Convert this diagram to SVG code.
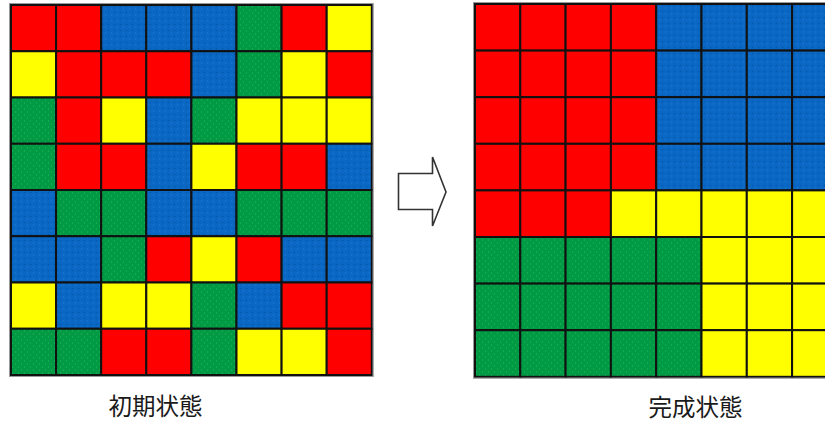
<svg xmlns="http://www.w3.org/2000/svg" width="825" height="423" viewBox="0 0 825 423">
<style>
.c{stroke:#111;stroke-width:2}
.r{fill:#FF0000}
.y{fill:#FFFF00}
.g{fill:url(#pg)}
.b{fill:url(#pb)}
.frame{fill:none;stroke:#999;stroke-width:1}
.lbl{font-family:"Noto Sans CJK JP","Noto Sans CJK SC",sans-serif;font-size:23.5px;fill:#1a1a1a;text-anchor:middle}
</style>
<defs>
<pattern id="pb" width="6" height="6" patternUnits="userSpaceOnUse">
<rect width="6" height="6" fill="#0A68C4"/>
<circle cx="1.5" cy="1.5" r="0.8" fill="#0456A8"/>
<circle cx="4.5" cy="4" r="0.8" fill="#1A78D0"/>
</pattern>
<pattern id="pg" width="6" height="6" patternUnits="userSpaceOnUse">
<rect width="6" height="6" fill="#009944"/>
<circle cx="1.5" cy="2" r="0.7" fill="#1DB356"/>
<circle cx="4.5" cy="5" r="0.7" fill="#1DB356"/>
</pattern>
</defs>
<rect width="825" height="423" fill="#fff"/>
<g id="initial">
<g transform="translate(11,5)">
<rect class="c r" x="0" y="0" width="45.1" height="46.25"/><rect class="c r" x="45.1" y="0" width="45.1" height="46.25"/><rect class="c b" x="90.2" y="0" width="45.1" height="46.25"/><rect class="c b" x="135.3" y="0" width="45.1" height="46.25"/><rect class="c b" x="180.4" y="0" width="45.1" height="46.25"/><rect class="c g" x="225.5" y="0" width="45.1" height="46.25"/><rect class="c r" x="270.6" y="0" width="45.1" height="46.25"/><rect class="c y" x="315.7" y="0" width="45.1" height="46.25"/>
<rect class="c y" x="0" y="46.25" width="45.1" height="46.25"/><rect class="c r" x="45.1" y="46.25" width="45.1" height="46.25"/><rect class="c r" x="90.2" y="46.25" width="45.1" height="46.25"/><rect class="c r" x="135.3" y="46.25" width="45.1" height="46.25"/><rect class="c b" x="180.4" y="46.25" width="45.1" height="46.25"/><rect class="c g" x="225.5" y="46.25" width="45.1" height="46.25"/><rect class="c y" x="270.6" y="46.25" width="45.1" height="46.25"/><rect class="c r" x="315.7" y="46.25" width="45.1" height="46.25"/>
<rect class="c g" x="0" y="92.5" width="45.1" height="46.25"/><rect class="c r" x="45.1" y="92.5" width="45.1" height="46.25"/><rect class="c y" x="90.2" y="92.5" width="45.1" height="46.25"/><rect class="c b" x="135.3" y="92.5" width="45.1" height="46.25"/><rect class="c g" x="180.4" y="92.5" width="45.1" height="46.25"/><rect class="c y" x="225.5" y="92.5" width="45.1" height="46.25"/><rect class="c y" x="270.6" y="92.5" width="45.1" height="46.25"/><rect class="c y" x="315.7" y="92.5" width="45.1" height="46.25"/>
<rect class="c g" x="0" y="138.75" width="45.1" height="46.25"/><rect class="c r" x="45.1" y="138.75" width="45.1" height="46.25"/><rect class="c r" x="90.2" y="138.75" width="45.1" height="46.25"/><rect class="c b" x="135.3" y="138.75" width="45.1" height="46.25"/><rect class="c y" x="180.4" y="138.75" width="45.1" height="46.25"/><rect class="c r" x="225.5" y="138.75" width="45.1" height="46.25"/><rect class="c r" x="270.6" y="138.75" width="45.1" height="46.25"/><rect class="c b" x="315.7" y="138.75" width="45.1" height="46.25"/>
<rect class="c b" x="0" y="185" width="45.1" height="46.25"/><rect class="c g" x="45.1" y="185" width="45.1" height="46.25"/><rect class="c g" x="90.2" y="185" width="45.1" height="46.25"/><rect class="c b" x="135.3" y="185" width="45.1" height="46.25"/><rect class="c b" x="180.4" y="185" width="45.1" height="46.25"/><rect class="c g" x="225.5" y="185" width="45.1" height="46.25"/><rect class="c g" x="270.6" y="185" width="45.1" height="46.25"/><rect class="c g" x="315.7" y="185" width="45.1" height="46.25"/>
<rect class="c b" x="0" y="231.25" width="45.1" height="46.25"/><rect class="c b" x="45.1" y="231.25" width="45.1" height="46.25"/><rect class="c g" x="90.2" y="231.25" width="45.1" height="46.25"/><rect class="c r" x="135.3" y="231.25" width="45.1" height="46.25"/><rect class="c y" x="180.4" y="231.25" width="45.1" height="46.25"/><rect class="c r" x="225.5" y="231.25" width="45.1" height="46.25"/><rect class="c b" x="270.6" y="231.25" width="45.1" height="46.25"/><rect class="c b" x="315.7" y="231.25" width="45.1" height="46.25"/>
<rect class="c y" x="0" y="277.5" width="45.1" height="46.25"/><rect class="c b" x="45.1" y="277.5" width="45.1" height="46.25"/><rect class="c y" x="90.2" y="277.5" width="45.1" height="46.25"/><rect class="c y" x="135.3" y="277.5" width="45.1" height="46.25"/><rect class="c g" x="180.4" y="277.5" width="45.1" height="46.25"/><rect class="c b" x="225.5" y="277.5" width="45.1" height="46.25"/><rect class="c r" x="270.6" y="277.5" width="45.1" height="46.25"/><rect class="c r" x="315.7" y="277.5" width="45.1" height="46.25"/>
<rect class="c g" x="0" y="323.75" width="45.1" height="46.25"/><rect class="c g" x="45.1" y="323.75" width="45.1" height="46.25"/><rect class="c r" x="90.2" y="323.75" width="45.1" height="46.25"/><rect class="c r" x="135.3" y="323.75" width="45.1" height="46.25"/><rect class="c g" x="180.4" y="323.75" width="45.1" height="46.25"/><rect class="c y" x="225.5" y="323.75" width="45.1" height="46.25"/><rect class="c y" x="270.6" y="323.75" width="45.1" height="46.25"/><rect class="c r" x="315.7" y="323.75" width="45.1" height="46.25"/>
<rect class="frame" x="-1.5" y="-1.5" width="363.8" height="373"/>
</g>
<text class="lbl" x="155.5" y="415">初期状態</text>
</g>
<g id="connectors">
<path d="M398.5,173.5 H432.5 V157 L446,192 L432.5,226 V209.5 H398.5 Z" fill="#fff" stroke="#333" stroke-width="1.6" stroke-linejoin="miter"/>
</g>
<g id="complete">
<g transform="translate(475,4)">
<rect class="c r" x="0" y="0" width="45.3" height="46.6"/><rect class="c r" x="45.3" y="0" width="45.3" height="46.6"/><rect class="c r" x="90.6" y="0" width="45.3" height="46.6"/><rect class="c r" x="135.9" y="0" width="45.3" height="46.6"/><rect class="c b" x="181.2" y="0" width="45.3" height="46.6"/><rect class="c b" x="226.5" y="0" width="45.3" height="46.6"/><rect class="c b" x="271.8" y="0" width="45.3" height="46.6"/><rect class="c b" x="317.1" y="0" width="45.3" height="46.6"/>
<rect class="c r" x="0" y="46.6" width="45.3" height="46.6"/><rect class="c r" x="45.3" y="46.6" width="45.3" height="46.6"/><rect class="c r" x="90.6" y="46.6" width="45.3" height="46.6"/><rect class="c r" x="135.9" y="46.6" width="45.3" height="46.6"/><rect class="c b" x="181.2" y="46.6" width="45.3" height="46.6"/><rect class="c b" x="226.5" y="46.6" width="45.3" height="46.6"/><rect class="c b" x="271.8" y="46.6" width="45.3" height="46.6"/><rect class="c b" x="317.1" y="46.6" width="45.3" height="46.6"/>
<rect class="c r" x="0" y="93.2" width="45.3" height="46.6"/><rect class="c r" x="45.3" y="93.2" width="45.3" height="46.6"/><rect class="c r" x="90.6" y="93.2" width="45.3" height="46.6"/><rect class="c r" x="135.9" y="93.2" width="45.3" height="46.6"/><rect class="c b" x="181.2" y="93.2" width="45.3" height="46.6"/><rect class="c b" x="226.5" y="93.2" width="45.3" height="46.6"/><rect class="c b" x="271.8" y="93.2" width="45.3" height="46.6"/><rect class="c b" x="317.1" y="93.2" width="45.3" height="46.6"/>
<rect class="c r" x="0" y="139.8" width="45.3" height="46.6"/><rect class="c r" x="45.3" y="139.8" width="45.3" height="46.6"/><rect class="c r" x="90.6" y="139.8" width="45.3" height="46.6"/><rect class="c r" x="135.9" y="139.8" width="45.3" height="46.6"/><rect class="c b" x="181.2" y="139.8" width="45.3" height="46.6"/><rect class="c b" x="226.5" y="139.8" width="45.3" height="46.6"/><rect class="c b" x="271.8" y="139.8" width="45.3" height="46.6"/><rect class="c b" x="317.1" y="139.8" width="45.3" height="46.6"/>
<rect class="c r" x="0" y="186.4" width="45.3" height="46.6"/><rect class="c r" x="45.3" y="186.4" width="45.3" height="46.6"/><rect class="c r" x="90.6" y="186.4" width="45.3" height="46.6"/><rect class="c y" x="135.9" y="186.4" width="45.3" height="46.6"/><rect class="c y" x="181.2" y="186.4" width="45.3" height="46.6"/><rect class="c y" x="226.5" y="186.4" width="45.3" height="46.6"/><rect class="c y" x="271.8" y="186.4" width="45.3" height="46.6"/><rect class="c y" x="317.1" y="186.4" width="45.3" height="46.6"/>
<rect class="c g" x="0" y="233" width="45.3" height="46.6"/><rect class="c g" x="45.3" y="233" width="45.3" height="46.6"/><rect class="c g" x="90.6" y="233" width="45.3" height="46.6"/><rect class="c g" x="135.9" y="233" width="45.3" height="46.6"/><rect class="c g" x="181.2" y="233" width="45.3" height="46.6"/><rect class="c y" x="226.5" y="233" width="45.3" height="46.6"/><rect class="c y" x="271.8" y="233" width="45.3" height="46.6"/><rect class="c y" x="317.1" y="233" width="45.3" height="46.6"/>
<rect class="c g" x="0" y="279.6" width="45.3" height="46.6"/><rect class="c g" x="45.3" y="279.6" width="45.3" height="46.6"/><rect class="c g" x="90.6" y="279.6" width="45.3" height="46.6"/><rect class="c g" x="135.9" y="279.6" width="45.3" height="46.6"/><rect class="c g" x="181.2" y="279.6" width="45.3" height="46.6"/><rect class="c y" x="226.5" y="279.6" width="45.3" height="46.6"/><rect class="c y" x="271.8" y="279.6" width="45.3" height="46.6"/><rect class="c y" x="317.1" y="279.6" width="45.3" height="46.6"/>
<rect class="c g" x="0" y="326.2" width="45.3" height="46.6"/><rect class="c g" x="45.3" y="326.2" width="45.3" height="46.6"/><rect class="c g" x="90.6" y="326.2" width="45.3" height="46.6"/><rect class="c g" x="135.9" y="326.2" width="45.3" height="46.6"/><rect class="c g" x="181.2" y="326.2" width="45.3" height="46.6"/><rect class="c y" x="226.5" y="326.2" width="45.3" height="46.6"/><rect class="c y" x="271.8" y="326.2" width="45.3" height="46.6"/><rect class="c y" x="317.1" y="326.2" width="45.3" height="46.6"/>
<rect class="frame" x="-1.5" y="-1.5" width="366" height="375.8"/>
</g>
<text class="lbl" x="695.5" y="416">完成状態</text>
</g>
</svg>
